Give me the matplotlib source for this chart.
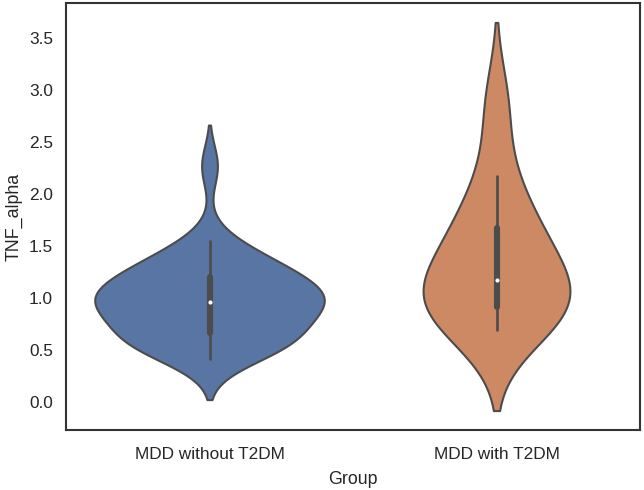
import numpy as np
import pandas as pd
import matplotlib
matplotlib.use("Agg")
import matplotlib.pyplot as plt
import seaborn as sns

groups = ["MDD without T2DM", "MDD with T2DM"]
tnf_without_t2dm = [0.42, 0.48, 0.52, 0.55, 0.58, 0.61, 0.63, 0.65, 0.70, 0.80,
                    0.85, 0.88, 0.91, 0.93, 0.95, 0.98, 1.00, 1.02, 1.04, 1.07,
                    1.10, 1.175, 1.21, 1.24, 1.27, 1.31, 1.36, 1.44, 1.55, 2.27]
tnf_with_t2dm = [0.70, 0.84, 0.89, 0.92, 1.00, 1.12, 1.24, 1.45, 1.64, 1.76,
                 2.17, 2.87]

df = pd.DataFrame({
    "Group": [groups[0]] * len(tnf_without_t2dm) + [groups[1]] * len(tnf_with_t2dm),
    "TNF_alpha": tnf_without_t2dm + tnf_with_t2dm,
})

sns.set_theme(style="white")
plt.rcParams["font.family"] = ["Liberation Sans", "DejaVu Sans"]

fig = plt.figure(figsize=(6.44, 4.9), dpi=100)
ax = fig.add_axes([66 / 644, 1 - 430 / 490, (640 - 66) / 644, (430 - 3) / 490])
try:
    sns.violinplot(data=df, x="Group", y="TNF_alpha", hue="Group", order=groups,
                   hue_order=groups, palette="deep", legend=False,
                   common_norm=True, linewidth=1.5,
                   inner_kws=dict(marker="o", box_width=4.4, whis_width=1.9),
                   ax=ax)
except TypeError:
    sns.violinplot(data=df, x="Group", y="TNF_alpha", order=groups,
                   palette="deep", ax=ax)

for ln in ax.lines:
    if ln.get_marker() == "o":
        ln.set_markersize(3.0)
        ln.set_markeredgewidth(0.0)

ax.tick_params(axis="x", labelsize=12.4, pad=12.4, length=0)
ax.tick_params(axis="y", labelsize=12.4, pad=9.5, length=0)
ax.set_xlabel("Group", fontsize=12.8, labelpad=6)
ax.set_ylabel("TNF_alpha", fontsize=12.8)
for s in ax.spines.values():
    s.set_color("#333333")
    s.set_linewidth(1.5)

fig.savefig("out.png", dpi=100)
